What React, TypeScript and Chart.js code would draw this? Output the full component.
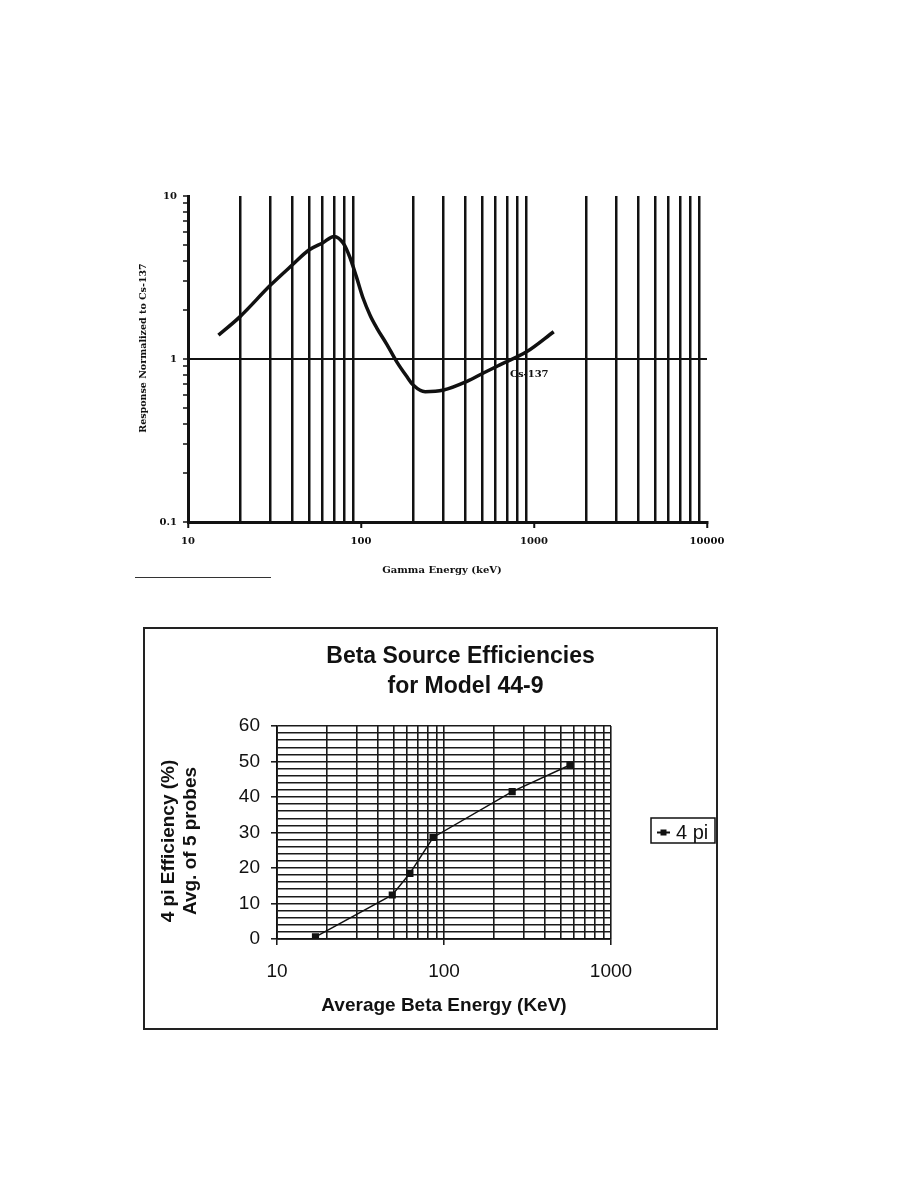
import React, { useEffect, useRef } from 'react';
import { Chart, registerables } from 'chart.js';

Chart.register(...registerables);

// ---------- Top chart: gamma energy response ----------
const gammaEnergyKeV = [15, 20, 30, 40, 50, 60, 70, 79, 86, 94, 103, 113, 123, 141, 161, 184, 201, 235, 300, 410, 510, 635, 910, 1300];
const gammaResponse = [1.4, 1.82, 2.84, 3.77, 4.66, 5.15, 5.65, 5.13, 4.24, 3.2, 2.35, 1.85, 1.56, 1.23, 0.96, 0.78, 0.69, 0.63, 0.645, 0.73, 0.82, 0.92, 1.11, 1.47];
const gammaXTickLabels = ['10', '100', '1000', '10000'];
const gammaYTickLabels = ['0.1', '1', '10'];
const gammaAnnotation = { text: 'Cs-137', energy: 726, response: 0.81 };

// ---------- Bottom chart: beta efficiencies ----------
const betaEnergyKeV = [17, 49, 62.5, 86, 256, 568];
const betaEfficiency = [0.6, 12.4, 18.5, 28.6, 41.5, 49.0];
const betaXTickLabels = ['10', '100', '1000'];
const betaYTickLabels = ['0', '10', '20', '30', '40', '50', '60'];
const betaSeriesName = '4 pi';

const INK = '#111';

const isDecade = (v: number) => {
  const l = Math.log10(v);
  return Math.abs(l - Math.round(l)) < 1e-9;
};
const dropHalfSteps = (scale: any) => {
  scale.ticks = scale.ticks.filter((t: any) => {
    const m = t.value / Math.pow(10, Math.floor(Math.log10(t.value) + 1e-9));
    return Math.abs(m - 1.5) > 1e-6;
  });
};
const labelFrom = (labels: string[]) => (v: any) => {
  const n = Number(v);
  const found = labels.find((l) => Math.abs(Number(l) - n) < 1e-9);
  return found === undefined ? '' : found;
};

const textPlugin = {
  id: 'pageText',
  afterDraw(chart: any, _args: any, opts: any) {
    const ctx = chart.ctx;
    (opts.items || []).forEach((it: any) => {
      let x = it.x;
      let y = it.y;
      if (it.dataX !== undefined) {
        x = chart.scales.x.getPixelForValue(it.dataX);
        y = chart.scales.y.getPixelForValue(it.dataY);
      }
      ctx.save();
      ctx.translate(x, y);
      if (it.rotation) ctx.rotate(it.rotation);
      ctx.font = it.font;
      ctx.fillStyle = INK;
      ctx.textAlign = it.align || 'center';
      ctx.textBaseline = it.baseline || 'middle';
      ctx.fillText(it.text, 0, 0);
      ctx.restore();
    });
  },
};

const legendBoxPlugin = {
  id: 'legendBox',
  afterDraw(chart: any, _args: any, opts: any) {
    const ctx = chart.ctx;
    const { x, y, w, h } = opts;
    const ds = chart.data.datasets[0];
    ctx.save();
    ctx.strokeStyle = INK;
    ctx.lineWidth = 1.5;
    ctx.strokeRect(x, y, w, h);
    const cy = y + h / 2 + 2;
    ctx.lineWidth = 2;
    ctx.beginPath();
    ctx.moveTo(x + 6, cy);
    ctx.lineTo(x + 19, cy);
    ctx.stroke();
    ctx.fillStyle = INK;
    ctx.fillRect(x + 9.5, cy - 3, 6, 6);
    ctx.font = '20px "Liberation Sans", Arial, sans-serif';
    ctx.textAlign = 'left';
    ctx.textBaseline = 'alphabetic';
    ctx.fillText(ds.label, x + 25, y + h - 4);
    ctx.restore();
  },
};

function GammaChart() {
  const ref = useRef<HTMLCanvasElement | null>(null);
  useEffect(() => {
    if (!ref.current) return;
    const serif = 'DejaVu Serif';
    const chart = new Chart(ref.current, {
      type: 'line',
      data: {
        datasets: [
          {
            label: 'Response',
            data: gammaEnergyKeV.map((e, i) => ({ x: e, y: gammaResponse[i] })),
            borderColor: INK,
            borderWidth: 3.5,
            pointRadius: 0,
            fill: false,
            cubicInterpolationMode: 'monotone',
          },
        ],
      },
      options: {
        responsive: false,
        animation: false,
        devicePixelRatio: 1,
        layout: { padding: { top: 16, right: 43, left: 0, bottom: 0 } },
        plugins: {
          legend: { display: false },
          tooltip: { enabled: false },
          pageText: {
            items: [
              { text: 'Response Normalized to Cs-137', x: 14, y: 168, rotation: -Math.PI / 2, font: `bold 9.5px "${serif}"` },
              { text: 'Gamma Energy (keV)', x: 312, y: 390, font: `bold 10px "${serif}"` },
              { text: gammaAnnotation.text, dataX: gammaAnnotation.energy, dataY: gammaAnnotation.response, align: 'left', font: `bold 10px "${serif}"` },
            ],
          },
        } as any,
        scales: {
          x: {
            type: 'logarithmic',
            min: 10,
            max: 10000,
            afterBuildTicks: dropHalfSteps,
            afterFit: (s: any) => { s.height = 68; },
            border: { display: true, color: INK, width: 3 },
            grid: {
              color: (c: any) => (isDecade(c.tick.value) ? 'rgba(0,0,0,0)' : INK),
              lineWidth: 2.5,
              tickColor: (c: any) => (isDecade(c.tick.value) ? INK : 'rgba(0,0,0,0)'),
              tickLength: 6,
              tickWidth: 2,
            },
            ticks: {
              autoSkip: false,
              maxRotation: 0,
              padding: 7,
              color: INK,
              font: { family: serif, size: 10, weight: 'bold' },
              callback: labelFrom(gammaXTickLabels),
            },
          },
          y: {
            type: 'logarithmic',
            min: 0.1,
            max: 10,
            afterBuildTicks: dropHalfSteps,
            afterFit: (s: any) => { s.width = 58; },
            border: { display: true, color: INK, width: 3 },
            grid: {
              color: (c: any) => (Math.abs(c.tick.value - 1) < 1e-9 ? INK : 'rgba(0,0,0,0)'),
              lineWidth: 2,
              tickColor: INK,
              tickLength: 5,
              tickWidth: 1.5,
            },
            ticks: {
              autoSkip: false,
              padding: 6,
              color: INK,
              font: { family: serif, size: 10, weight: 'bold' },
              callback: labelFrom(gammaYTickLabels),
            },
          },
        },
      } as any,
      plugins: [textPlugin],
    });
    return () => chart.destroy();
  }, []);
  return <canvas ref={ref} width={620} height={410} style={{ position: 'absolute', left: 130, top: 180, width: 620, height: 410 }} />;
}

function BetaChart() {
  const ref = useRef<HTMLCanvasElement | null>(null);
  useEffect(() => {
    if (!ref.current) return;
    const sans = 'Liberation Sans';
    const chart = new Chart(ref.current, {
      type: 'line',
      data: {
        datasets: [
          {
            label: betaSeriesName,
            data: betaEnergyKeV.map((e, i) => ({ x: e, y: betaEfficiency[i] })),
            borderColor: INK,
            backgroundColor: INK,
            borderWidth: 1.5,
            tension: 0,
            pointStyle: 'rect',
            pointRadius: 4,
            pointBackgroundColor: INK,
            pointBorderColor: INK,
            fill: false,
          },
        ],
      },
      options: {
        responsive: false,
        animation: false,
        devicePixelRatio: 1,
        layout: { padding: { top: 97, right: 105, left: 0, bottom: 0 } },
        plugins: {
          legend: { display: false },
          tooltip: { enabled: false },
          legendBox: { x: 506, y: 189, w: 64, h: 25 },
          pageText: {
            items: [
              { text: 'Beta Source Efficiencies', x: 315.5, y: 34, baseline: 'alphabetic', font: `bold 23px "${sans}"` },
              { text: 'for Model 44-9', x: 320.5, y: 64, baseline: 'alphabetic', font: `bold 23px "${sans}"` },
              { text: '4 pi Efficiency (%)', x: 23.5, y: 212, rotation: -Math.PI / 2, font: `bold 19px "${sans}"` },
              { text: 'Avg. of 5 probes', x: 45.5, y: 212, rotation: -Math.PI / 2, font: `bold 19px "${sans}"` },
            ],
          },
        } as any,
        scales: {
          x: {
            type: 'logarithmic',
            min: 10,
            max: 1000,
            afterBuildTicks: dropHalfSteps,
            afterFit: (s: any) => { s.height = 89; },
            border: { display: true, color: INK, width: 1.8 },
            grid: {
              color: '#1a1a1a',
              lineWidth: 1.6,
              tickColor: (c: any) => (isDecade(c.tick.value) ? INK : 'rgba(0,0,0,0)'),
              tickLength: 6,
              tickWidth: 1.5,
            },
            ticks: {
              autoSkip: false,
              maxRotation: 0,
              padding: 15,
              color: INK,
              font: { family: sans, size: 19 },
              callback: labelFrom(betaXTickLabels),
            },
            title: {
              display: true,
              text: 'Average Beta Energy (KeV)',
              color: INK,
              font: { family: sans, size: 19, weight: 'bold' },
              padding: { top: 0, bottom: 11 },
            },
          },
          y: {
            type: 'linear',
            min: 0,
            max: 60,
            afterFit: (s: any) => { s.width = 132; },
            border: { display: true, color: INK, width: 1.8 },
            grid: {
              color: '#1a1a1a',
              lineWidth: 1.6,
              tickColor: (c: any) => (c.tick.value % 10 === 0 ? INK : 'rgba(0,0,0,0)'),
              tickLength: 6,
              tickWidth: 1.5,
            },
            ticks: {
              stepSize: 2,
              autoSkip: false,
              padding: 11,
              color: INK,
              font: { family: sans, size: 19 },
              callback: labelFrom(betaYTickLabels),
            },
          },
        },
      } as any,
      plugins: [textPlugin, legendBoxPlugin],
    });
    return () => chart.destroy();
  }, []);
  return (
    <div style={{ position: 'absolute', left: 143, top: 627, width: 571, height: 399, border: '2px solid #222' }}>
      <canvas ref={ref} width={571} height={399} style={{ display: 'block', width: 571, height: 399 }} />
    </div>
  );
}

export default function App() {
  return (
    <div style={{ position: 'absolute', left: 0, top: 0, width: 918, height: 1188, background: '#fff', overflow: 'hidden' }}>
      <GammaChart />
      <div style={{ position: 'absolute', left: 135, top: 577, width: 136, height: 1, background: '#333' }} />
      <BetaChart />
    </div>
  );
}
